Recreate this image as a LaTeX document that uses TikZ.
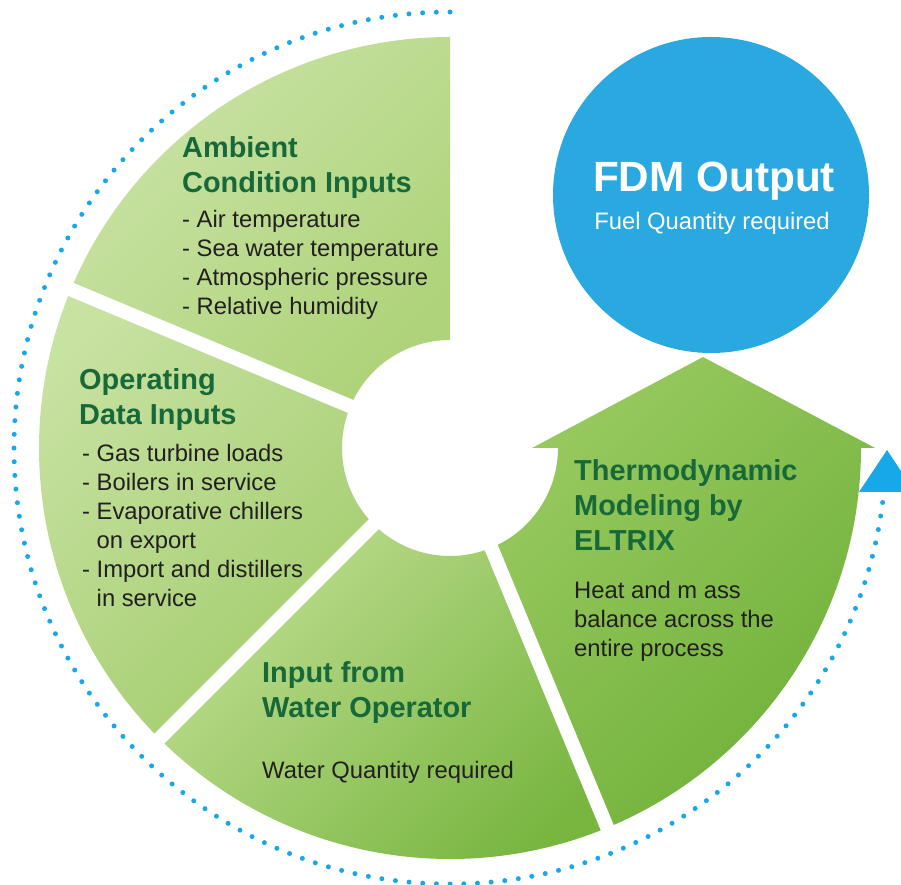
\documentclass[tikz,border=0pt]{standalone}
\usepackage{fontspec}
\setmainfont{Liberation Sans}
\usetikzlibrary{calc}

\definecolor{fdmblue}{HTML}{29A9E0}
\definecolor{dotblue}{HTML}{17A8EA}
\definecolor{headgreen}{HTML}{17693A}
\definecolor{bodyblack}{HTML}{231F20}
\definecolor{ambientA}{HTML}{CAE3A6}
\definecolor{ambientB}{HTML}{AED37A}
\definecolor{operatingA}{HTML}{C8E2A2}
\definecolor{operatingB}{HTML}{A3CD6E}
\definecolor{waterA}{HTML}{BEDD90}
\definecolor{waterB}{HTML}{78B640}
\definecolor{thermoA}{HTML}{98C960}
\definecolor{thermoB}{HTML}{6FB138}

\begin{document}
\begin{tikzpicture}[x=1pt, y=1pt,
    heading/.style={anchor=base west, inner sep=0pt, align=left, text=headgreen,
        font=\fontsize{28.9}{35}\selectfont\bfseries},
    bodytxt/.style={anchor=base west, inner sep=0pt, align=left, text=bodyblack,
        font=\fontsize{23.8}{29}\selectfont},
    gapline/.style={white, line width=14pt},
    dotring/.style={dotblue, line width=5pt, line cap=round, dash pattern=on 0pt off 13.7pt}]
    \path[use as bounding box] (0, 0) rectangle (901, 884);
    \coordinate (c) at (450, 436);

    % dotted cycle round the ring
    \draw[dotring] ($(c)+(90:436)$) arc[start angle=90, end angle=353, radius=436];
    \fill[dotblue] (887, 434) -- (915, 392) -- (859, 392) -- cycle;

    % ring segments
    \shade[top color=ambientA, bottom color=ambientB, shading angle=45]
        ($(c)+(90:108)$) -- ($(c)+(90:411)$) arc[start angle=90, end angle=157.3, radius=411]
        -- ($(c)+(157.3:108)$) arc[start angle=157.3, end angle=90, radius=108] -- cycle;
    \shade[top color=operatingA, bottom color=operatingB, shading angle=45]
        ($(c)+(157.3:108)$) -- ($(c)+(157.3:411)$) arc[start angle=157.3, end angle=225, radius=411]
        -- ($(c)+(225:108)$) arc[start angle=225, end angle=157.3, radius=108] -- cycle;
    \shade[top color=waterA, bottom color=waterB, shading angle=45]
        ($(c)+(225:108)$) -- ($(c)+(225:411)$) arc[start angle=225, end angle=292.5, radius=411]
        -- ($(c)+(292.5:108)$) arc[start angle=292.5, end angle=225, radius=108] -- cycle;
    \shade[top color=thermoA, bottom color=thermoB, shading angle=45]
        ($(c)+(292.5:108)$) -- ($(c)+(292.5:411)$) arc[start angle=292.5, end angle=360, radius=411]
        -- (875, 436) -- (703, 527) -- (532, 436)
        -- ($(c)+(0:108)$) arc[start angle=360, end angle=292.5, radius=108] -- cycle;
    \foreach \a in {157.3, 225, 292.5}
        \draw[gapline] ($(c)+(\a:100)$) -- ($(c)+(\a:422)$);

    % output circle
    \node[circle, fill=fdmblue, minimum size=316pt, inner sep=0pt] (fdm) at (711, 689) {};
    \node[anchor=base, inner sep=0pt, text=white, font=\fontsize{42.3}{50}\selectfont\bfseries] (fdmtitle) at (714, 692) {FDM Output};
    \node[anchor=base, inner sep=0pt, text=white, font=\fontsize{23.8}{29}\selectfont] (fdmtext) at (712, 654) {Fuel Quantity required};

    % segment texts (base = last line)
    \node[heading] (ambienthead) at (182, 691) {Ambient\\Condition Inputs};
    \node[bodytxt] (ambientlist) at (182, 569) {- Air temperature\\- Sea water temperature\\- Atmospheric pressure\\- Relative humidity};

    \node[heading] (operatinghead) at (79, 459) {Operating\\Data Inputs};
    \node[bodytxt] (operatinglist) at (82, 278) {- Gas turbine loads\\- Boilers in service\\- Evaporative chillers\\\phantom{- }on export\\- Import and distillers\\\phantom{- }in service};

    \node[heading] (waterhead) at (262, 167) {Input from\\Water Operator};
    \node[bodytxt] (watertext) at (262, 106) {Water Quantity required};

    \node[heading] (thermohead) at (574, 334) {Thermodynamic\\Modeling by\\ELTRIX};
    \node[bodytxt] (thermotext) at (574, 228) {Heat and m ass\\balance across the\\entire process};
\end{tikzpicture}
\end{document}
